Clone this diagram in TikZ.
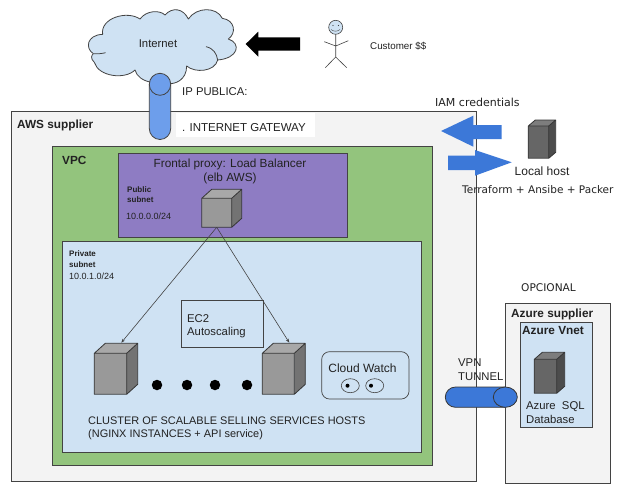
\documentclass[tikz,border=0pt]{standalone}
\usepackage{fontspec}
\setmainfont{Liberation Sans}
\newfontfamily\dejafont{DejaVu Sans}
\usetikzlibrary{arrows.meta}
\definecolor{edge}{HTML}{434343}
\definecolor{awsfill}{HTML}{F3F3F3}
\definecolor{vpcfill}{HTML}{93C47D}
\definecolor{pubfill}{HTML}{8E7CC3}
\definecolor{lightblue}{HTML}{CFE2F3}
\definecolor{tube}{HTML}{6D9EEB}
\definecolor{darktube}{HTML}{3C78D8}
\definecolor{ink}{HTML}{222222}
\definecolor{cubegray}{HTML}{999999}
\definecolor{cubedark}{HTML}{666666}
\tikzset{
  panel/.style={draw=edge,line width=.9pt},
  txt/.style={inner sep=0pt,anchor=base west,text=ink,font=\fontsize{11.3}{13}\selectfont},
  mid/.style={inner sep=0pt,anchor=base,text=ink,font=\fontsize{11.8}{13}\selectfont},
  clustertxt/.style={txt,font=\fontsize{10.95}{13}\selectfont},
  smalltxt/.style={txt,font=\fontsize{9}{11}\selectfont},
  tinybold/.style={txt,font=\fontsize{8}{10}\selectfont\bfseries},
  boldtxt/.style={txt,font=\fontsize{11.8}{13}\selectfont\bfseries},
  dejatxt/.style={inner sep=0pt,anchor=base west,text=ink,font=\dejafont\fontsize{10.6}{12}\selectfont},
  fat/.style={fill=darktube,draw=none},
  link/.style={draw=edge,line width=.6pt,-{Stealth[length=4pt,width=3pt]}},
  stick/.style={draw=edge,line width=.6pt},
}
% #1 name, #2 x0, #3 y0 (front top-left), #4 x1, #5 y1 (front bottom-right), #6 dx, #7 dy, #8 shade
\newcommand{\boxcube}[8]{%
  \fill[#8] (#2,#3) rectangle (#4,#5);
  \fill[#8!85!white] (#2,#3) -- ++(#6,-#7) -- (#4+#6,#3-#7) -- (#4,#3) -- cycle;
  \fill[#8!75!black] (#4,#3) -- (#4+#6,#3-#7) -- (#4+#6,#5-#7) -- (#4,#5) -- cycle;
  \draw[draw=edge!80!black,line width=.8pt,line join=round] (#2,#3) rectangle (#4,#5)
     (#2,#3) -- ++(#6,-#7) -- (#4+#6,#3-#7) -- (#4,#3)
     (#4+#6,#3-#7) -- (#4+#6,#5-#7) -- (#4,#5);
  \coordinate (#1) at ({(#2+#4)/2},#5);
}
\begin{document}
\begin{tikzpicture}[x=1pt,y=-1pt]
\useasboundingbox[fill=white] (0,0) rectangle (623,493);
% cloud
\begin{scope}[shift={(85,5)},x=.33333pt,y=-.33333pt]
\draw[fill=lightblue,draw=edge,line width=.8pt,line join=round]
  (53,88) .. controls (45,40) and (125,15) .. (165,42)
  .. controls (185,15) and (225,15) .. (240,30)
  .. controls (262,5) and (295,10) .. (310,42)
  .. controls (335,5) and (395,5) .. (412,40)
  .. controls (450,45) and (455,85) .. (430,102)
  .. controls (470,115) and (460,160) .. (398,165)
  .. controls (390,200) and (330,205) .. (305,183)
  .. controls (305,225) and (270,240) .. (245,235)
  -- (200,232)
  .. controls (175,228) and (155,215) .. (150,195)
  .. controls (120,225) and (40,215) .. (28,172)
  .. controls (15,160) and (20,150) .. (25,146)
  .. controls (0,130) and (5,90) .. (53,88) -- cycle;
\draw[draw=edge,line width=.8pt] (25,146) .. controls (38,147) and (50,146) .. (62,143)
  (363,125) .. controls (385,130) and (395,145) .. (398,165);
\end{scope}
\node[mid,anchor=center,font=\fontsize{11.3}{13}\selectfont] (internet) at (158,44) {Internet};
% customer arrow
\fill[black] (245.7,44) -- (258.3,31.7) -- (258.3,37.3) -- (300,37.3) -- (300,50.7) -- (258.3,50.7) -- (258.3,56.7) -- cycle;
% stick man
\draw[stick,fill=lightblue] (335.7,27.3) circle (7);
\draw[stick] (335.7,34.3) -- (335.7,57) (324.3,41.7) -- (335.7,46) -- (348.3,40.7)
  (325.3,67.7) -- (335.7,57) -- (346.7,67.7);
\draw[stick,line width=.4pt] (331,29.5) to[bend right=40] (340,29.5);
\fill[edge] (333,25.5) circle (.7) (338.5,25.5) circle (.7);
\node[smalltxt,font=\fontsize{9.8}{11}\selectfont] (customer) at (370,49) {Customer \$\$};
\node[txt] (ippub) at (182,95) {IP PUBLICA:};
% AWS
\node[panel,fill=awsfill,minimum width=465pt,minimum height=370pt,anchor=north west,inner sep=0pt] (aws) at (11,111) {};
\node[boldtxt] (awslbl) at (17,128) {AWS supplier};
\fill[white] (176,113.3) rectangle (315,137.3);
\node[txt,font=\fontsize{11.5}{13}\selectfont] (igw) at (182,131) {. INTERNET GATEWAY};
% gateway tube
\draw[fill=tube,draw=edge,line width=.8pt] (149.3,84.3) -- (149.3,128.5) arc[start angle=180,end angle=0,x radius=10.7,y radius=11] -- (170.7,84.3);
\draw[fill=tube,draw=edge,line width=.8pt] (160,84.3) ellipse (10.7 and 11);
% VPC
\node[panel,fill=vpcfill,minimum width=380pt,minimum height=319pt,anchor=north west,inner sep=0pt] (vpc) at (52,146) {};
\node[boldtxt] (vpclbl) at (62,164) {VPC};
% public subnet
\node[panel,fill=pubfill,minimum width=228.4pt,minimum height=83.4pt,anchor=north west,inner sep=0pt] (pub) at (118.3,153.3) {};
\node[mid] (front) at (230,167) {Frontal proxy: Load Balancer};
\node[mid] (elb) at (230,181) {(elb AWS)};
\node[tinybold] (pub1) at (127,192) {Public};
\node[tinybold] (pub2) at (127,202) {subnet};
\node[smalltxt] (pubnet) at (126,219) {10.0.0.0/24};
% private subnet
\node[panel,fill=lightblue,minimum width=358.7pt,minimum height=211pt,anchor=north west,inner sep=0pt] (priv) at (62.3,241) {};
\node[tinybold] (priv1) at (69,256) {Private};
\node[tinybold] (priv2) at (69,267) {subnet};
\node[smalltxt] (privnet) at (69,279) {10.0.1.0/24};
% cubes
\boxcube{lb}{201.7}{198.3}{231.7}{227.3}{10}{9}{cubegray}
\boxcube{hostl}{94.3}{353.3}{126.7}{394.3}{11}{10}{cubegray}
\boxcube{hostr}{262.3}{353.3}{294.3}{394.3}{11}{10}{cubegray}
\coordinate (hostlin) at (121.3,342.7);
\coordinate (hostrin) at (289.3,342.7);
\draw[link] (lb) -- (hostlin);
\draw[link] (lb) -- (hostrin);
% EC2
\node[draw=edge,line width=.7pt,minimum width=81.4pt,minimum height=47pt,anchor=north west,inner sep=0pt] (ec2) at (181.3,300.3) {};
\node[txt] (ec2a) at (187,322) {EC2};
\node[txt] (ec2b) at (187,335) {Autoscaling};
% dots
\foreach \d/\px in {a/157,b/187,c/215,d/247}{\node[circle,fill=black,inner sep=0pt,minimum size=10.5pt] (dot\d) at (\px,385) {};}
% Cloud Watch
\node[draw=edge,line width=.7pt,rounded corners=8pt,minimum width=87.4pt,minimum height=47.4pt,anchor=north west,inner sep=0pt] (cw) at (321.3,351.3) {};
\node[mid,font=\fontsize{12}{13}\selectfont] (cwlbl) at (362.5,372) {Cloud Watch};
\draw[draw=edge,line width=.6pt] (350.3,385.7) ellipse (9 and 7) (374.7,385.7) ellipse (9 and 7);
\fill[black] (347.5,385.7) circle (2) (371,385.7) circle (2);
\node[clustertxt] (clu1) at (88,424) {CLUSTER OF SCALABLE SELLING SERVICES HOSTS};
\node[clustertxt] (clu2) at (88,437) {(NGINX INSTANCES + API service)};
% Azure
\node[panel,fill=awsfill,minimum width=105pt,minimum height=180pt,anchor=north west,inner sep=0pt] (azure) at (505.3,303.3) {};
\node[boldtxt] (azlbl) at (511,317) {Azure supplier};
\node[panel,fill=lightblue,minimum width=71.4pt,minimum height=105pt,anchor=north west,inner sep=0pt] (vnet) at (520.3,322.3) {};
\node[boldtxt] (vnlbl) at (522,334) {Azure Vnet};
\boxcube{db}{534.3}{359.3}{556.7}{393.3}{8}{7}{cubedark}
\node[txt] (sql1) at (526,409) {Azure\ \ SQL};
\node[txt] (sql2) at (526,423) {Database};
% VPN tube
\draw[fill=darktube,draw=edge!80!black,line width=.8pt] (505.3,387) -- (455.5,387) arc[start angle=90,end angle=270,x radius=10.2,y radius=-10.15] -- (505.3,407.3);
\draw[fill=darktube,draw=edge!80!black,line width=.8pt] (505.3,397.15) ellipse (12 and 10.15);
\node[txt] (vpn1) at (458,366) {VPN};
\node[txt] (vpn2) at (458,380) {TUNNEL};
\node[dejatxt] (opc) at (521,291) {OPCIONAL};
% Local host
\boxcube{local}{528.3}{126}{548.7}{158.3}{7}{6}{cubedark}
\node[mid,font=\fontsize{12}{13}\selectfont] (lhost) at (542,175) {Local host};
\node[dejatxt,font=\dejafont\fontsize{10.5}{12}\selectfont] (tool) at (462,193) {Terraform + Ansibe + Packer};
\node[dejatxt,font=\dejafont\fontsize{11}{12}\selectfont] (iam) at (435,106) {IAM credentials};
\fill[fat] (441,131) -- (473.3,115.7) -- (473.3,125) -- (501.7,125) -- (501.7,139) -- (473.3,139) -- (473.3,146.7) -- cycle;
\fill[fat] (511.7,162.3) -- (475,150) -- (475,155.7) -- (448,155.7) -- (448,170) -- (475,170) -- (475,175.7) -- cycle;
\end{tikzpicture}
\end{document}
